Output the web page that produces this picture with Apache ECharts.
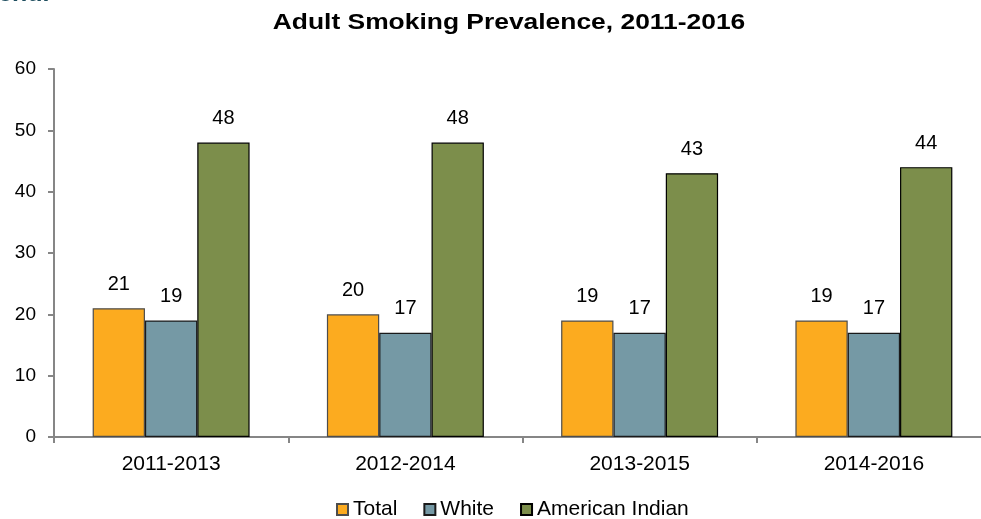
<!DOCTYPE html>
<html><head><meta charset="utf-8">
<script src="https://cdn.jsdelivr.net/npm/echarts@6/dist/echarts.min.js"></script>
<style>html,body{margin:0;padding:0;background:#fff}#c{width:981px;height:519px}</style>
</head><body><div id="c"></div>
<script>
const categories = ['2011-2013', '2012-2014', '2013-2015', '2014-2016'];
const totalValues = [21, 20, 19, 19];
const whiteValues = [19, 17, 17, 17];
const americanIndianValues = [48, 48, 43, 44];
const yTicks = [0, 10, 20, 30, 40, 50, 60];

const FONT = '"Liberation Sans", Arial, sans-serif';
const chart = echarts.init(document.getElementById('c'));
const lbl = {show: true, position: 'top', distance: 14, color: '#000', fontSize: 20, fontFamily: FONT};
function ser(name, data, color, border) {
  return {name, type: 'bar', data, barGap: '0%', barCategoryGap: '33%',
    itemStyle: {color, borderColor: border, borderWidth: 1.2}, label: lbl};
}
chart.setOption({
  animation: false,
  textStyle: {fontFamily: FONT},
  graphic: [
    {type: 'text', x: -2, y: -18, style: {text: 'end.', fill: '#1F4E5F', font: 'bold 25px ' + FONT}},
    {type: 'text', x: 509, y: 23, scaleX: 1.2, style: {text: 'Adult Smoking Prevalence, 2011-2016',
      fill: '#000', font: 'bold 22px ' + FONT, align: 'center', verticalAlign: 'middle'}}
  ],
  legend: {top: 494, left: 331, itemWidth: 11, itemHeight: 11, itemGap: 26, icon: 'rect',
    textStyle: {fontSize: 21, color: '#000', fontFamily: FONT},
    data: ['Total', 'White', 'American Indian']},
  grid: {left: 54, top: 69, height: 368, width: 937, containLabel: false, outerBoundsMode: 'none'},
  xAxis: {type: 'category', data: categories,
    axisLine: {lineStyle: {color: '#868686', width: 2}},
    axisTick: {show: true, length: 6, lineStyle: {color: '#868686', width: 2}},
    axisLabel: {fontSize: 21, color: '#000', margin: 17, fontFamily: FONT}},
  yAxis: {type: 'value', min: 0, max: 60, interval: 10,
    axisLine: {show: true, lineStyle: {color: '#868686', width: 2}},
    axisTick: {show: true, length: 6, lineStyle: {color: '#868686', width: 2}},
    splitLine: {show: false},
    axisLabel: {fontSize: 19, color: '#000', margin: 18, fontFamily: FONT,
      formatter: v => yTicks.includes(v) ? String(v) : ''}},
  series: [
    ser('Total', totalValues, '#FCAB1F', '#4d4d4d'),
    ser('White', whiteValues, '#7599A5', '#1a1a1a'),
    ser('American Indian', americanIndianValues, '#7C8E4B', '#000')
  ]
});
</script></body></html>
